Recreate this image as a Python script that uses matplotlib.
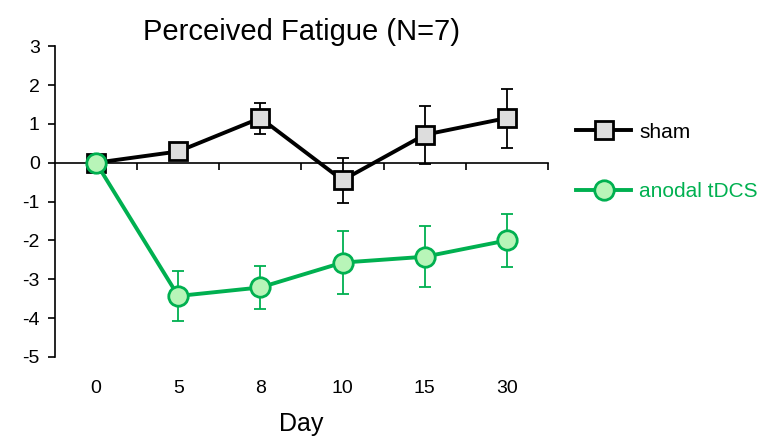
import numpy as np
import matplotlib.pyplot as plt

plt.rcParams['font.family'] = ['Liberation Sans', 'DejaVu Sans']
plt.rcParams['axes.unicode_minus'] = False

days = ['0', '5', '8', '10', '15', '30']
sham = [0.0, 0.29, 1.15, -0.45, 0.72, 1.15]
sham_err = [0.0, 0.1, 0.40, 0.58, 0.74, 0.76]
anodal = [0.0, -3.43, -3.21, -2.57, -2.42, -2.0]
anodal_err = [0.0, 0.65, 0.55, 0.82, 0.78, 0.68]

green = '#00B050'
x = np.arange(len(days))

fig = plt.figure(figsize=(7.8, 4.44), dpi=100)
ax = fig.add_axes([0.0705, 0.196, 0.632, 0.700])

ax.errorbar(x[1:], sham[1:], yerr=sham_err[1:], fmt='none', ecolor='black',
            elinewidth=1.3, capsize=4, capthick=1.3, zorder=2)
ax.plot(x, sham, color='black', lw=2.8, marker='s', ms=13, mfc='#DDDDDD',
        mec='black', mew=2, label='sham', zorder=3)
ax.errorbar(x[1:], anodal[1:], yerr=anodal_err[1:], fmt='none', ecolor=green,
            elinewidth=1.3, capsize=4, capthick=1.3, zorder=4)
ax.plot(x, anodal, color=green, lw=2.8, marker='o', ms=14, mfc='#B8F5B8',
        mec=green, mew=2, label='anodal tDCS', zorder=5)

ax.set_xlim(-0.5, 5.5)
ax.set_ylim(-5, 3)
ax.set_yticks(np.arange(-5, 4, 1))
ax.tick_params(axis='y', labelsize=14, length=5, width=1.2, direction='out', pad=6)

# x轴放在 y=0 处，刻度在分类之间
ax.spines['top'].set_visible(False)
ax.spines['right'].set_visible(False)
ax.spines['bottom'].set_position(('data', 0))
ax.spines['left'].set_linewidth(1.2)
ax.spines['bottom'].set_linewidth(1.2)
ax.set_xticks(x + 0.5)
ax.set_xticklabels([])
ax.tick_params(axis='x', length=5, width=1.2, direction='out')

# 分类标签画在图底部
for i, d in enumerate(days):
    ax.text(i, -0.1, d, transform=ax.get_xaxis_transform(), ha='center',
            va='center', fontsize=14)
ax.text(2.5, -0.215, 'Day', transform=ax.get_xaxis_transform(), ha='center',
        va='center', fontsize=18)

ax.set_title('Perceived Fatigue (N=7)', fontsize=21, pad=2)

leg = fig.legend(loc='upper left', bbox_to_anchor=(0.715, 0.766), frameon=False,
                 fontsize=15, handlelength=2.6, labelspacing=1.95, handletextpad=0.4)
leg.get_texts()[1].set_color(green)

fig.savefig('out.png', dpi=100)
